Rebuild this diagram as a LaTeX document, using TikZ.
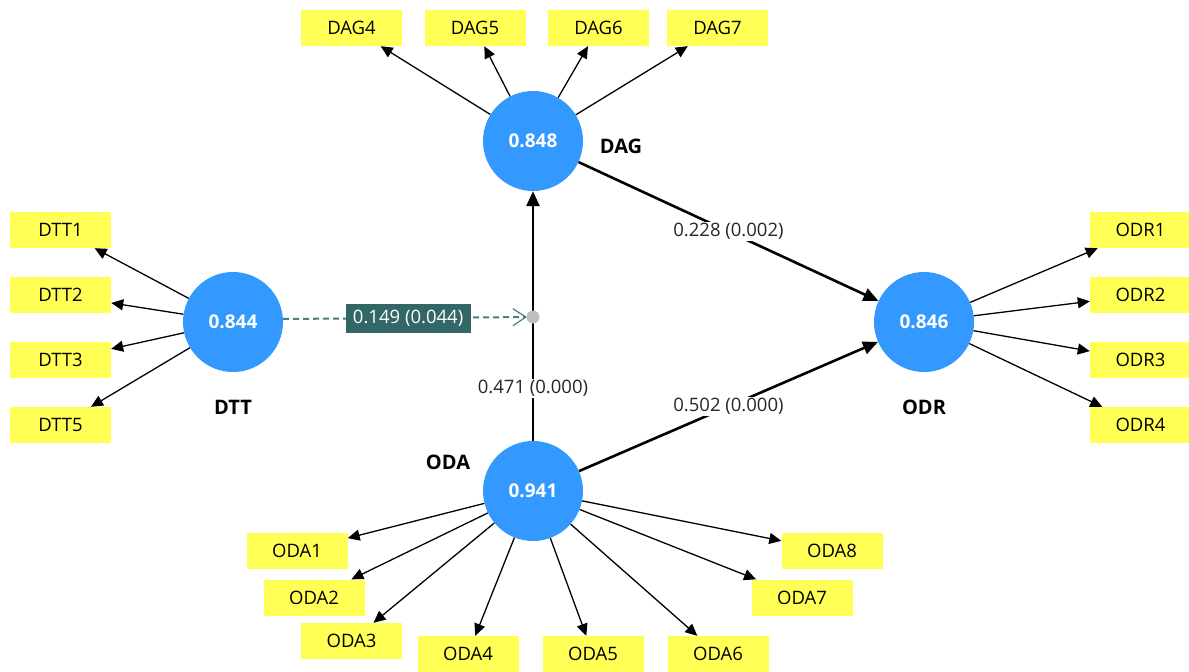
\documentclass[tikz,border=0pt]{standalone}
\usepackage{fontspec}
\setmainfont{Open Sans}
\usetikzlibrary{arrows.meta}
\definecolor{lvblue}{RGB}{51,153,255}
\definecolor{indyel}{RGB}{255,255,85}
\definecolor{teal2}{RGB}{51,102,102}
\definecolor{tealline}{RGB}{70,125,125}
\definecolor{dotgray}{RGB}{190,190,190}
\begin{document}
\begin{tikzpicture}[x=1pt,y=-1pt,
  latent/.style={circle,fill=lvblue,minimum size=100pt,inner sep=0pt,text=white,font=\fontsize{19}{22}\selectfont\bfseries},
  indic/.style={rectangle,fill=indyel,minimum width=101pt,minimum height=36pt,inner sep=0pt,font=\fontsize{18.5}{22}\selectfont},
  lvname/.style={font=\fontsize{20}{24}\selectfont\bfseries},
  ldarrow/.style={-{Triangle[length=12pt,width=11pt]},line width=1.3pt},
  patharrow/.style={-{Triangle[length=15pt,width=13pt]},line width=2.6pt},
  plabel/.style={fill=white,inner sep=1pt,text=black!85,font=\fontsize{18.5}{22}\selectfont}]
\useasboundingbox (0,0) rectangle (1189,672);
% latent variables
\node[latent] (DAG) at (533,141) {0.848};
\node[latent] (DTT) at (233,322) {0.844};
\node[latent] (ODR) at (924,322) {0.846};
\node[latent] (ODA) at (533,491) {0.941};
% names
\node[lvname] (nDAG) at (621,146) {DAG};
\node[lvname] (nDTT) at (233,407) {DTT};
\node[lvname] (nODR) at (924,407) {ODR};
\node[lvname] (nODA) at (448,462) {ODA};
% indicators
\node[indic] (DAG4) at (351.5,28) {DAG4};
\node[indic] (DAG5) at (475,28) {DAG5};
\node[indic] (DAG6) at (598.5,28) {DAG6};
\node[indic] (DAG7) at (717.5,28) {DAG7};
\node[indic] (DTT1) at (60.5,230) {DTT1};
\node[indic] (DTT2) at (60.5,295) {DTT2};
\node[indic] (DTT3) at (60.5,360) {DTT3};
\node[indic] (DTT5) at (60.5,425) {DTT5};
\node[indic] (ODR1) at (1140.5,230) {ODR1};
\node[indic] (ODR2) at (1140.5,295) {ODR2};
\node[indic] (ODR3) at (1140.5,360) {ODR3};
\node[indic] (ODR4) at (1140.5,425) {ODR4};
\node[indic] (ODA1) at (297,551) {ODA1};
\node[indic] (ODA2) at (314,597.5) {ODA2};
\node[indic] (ODA3) at (351.5,641) {ODA3};
\node[indic] (ODA4) at (468,654) {ODA4};
\node[indic] (ODA5) at (593,654) {ODA5};
\node[indic] (ODA6) at (718,654) {ODA6};
\node[indic] (ODA7) at (802,597.5) {ODA7};
\node[indic] (ODA8) at (832,551) {ODA8};
% loadings
\foreach \i in {DAG4,DAG5,DAG6,DAG7} \draw[ldarrow] (DAG) -- (\i);
\foreach \i in {DTT1,DTT2,DTT3,DTT5} \draw[ldarrow] (DTT) -- (\i);
\foreach \i in {ODR1,ODR2,ODR3,ODR4} \draw[ldarrow] (ODR) -- (\i);
\foreach \i in {ODA1,ODA2,ODA3,ODA4,ODA5,ODA6,ODA7,ODA8} \draw[ldarrow] (ODA) -- (\i);
% structural paths
\draw[patharrow] (DAG) -- node[plabel] {0.228 (0.002)} (ODR);
\draw[patharrow] (ODA) -- node[plabel] {0.502 (0.000)} (ODR);
\draw[patharrow] (ODA) -- node[plabel,pos=0.21] {0.471 (0.000)} (DAG);
% moderating effect
\coordinate (mod) at (533,317);
\draw[tealline,line width=2pt,dash pattern=on 6pt off 4pt,-{Straight Barb[length=13pt,width=17pt,line width=1.2pt]},shorten >=6pt]
  (DTT.east |- 0,319) -- node[fill=teal2,text=white,inner sep=0pt,minimum width=125pt,minimum height=29pt,font=\fontsize{18.5}{22}\selectfont] {0.149 (0.044)} (mod);
\node[circle,fill=dotgray,minimum size=13pt,inner sep=0pt] (moddot) at (mod) {};
\end{tikzpicture}
\end{document}
